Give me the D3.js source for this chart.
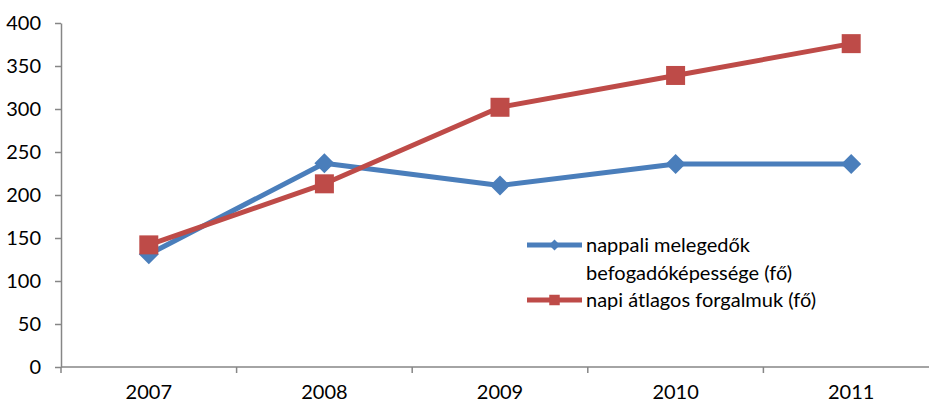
<!DOCTYPE html>
<html>
<head>
<meta charset="utf-8">
<script src="https://cdn.jsdelivr.net/npm/d3@7/dist/d3.min.js"></script>
<style>
  html, body { margin: 0; padding: 0; background: #fff; }
  svg { display: block; font-family: Lato, "Open Sans", sans-serif; }
</style>
</head>
<body>
<svg id="chart" width="929" height="403"></svg>
<script>
// Years on the category axis
const years = ["2007", "2008", "2009", "2010", "2011"];
// Day-shelter capacity (persons)
const capacity = [131, 237, 211, 236, 236];
// Average daily attendance (persons)
const attendance = [142, 213, 302, 339, 376];
// Value axis ticks
const yTicks = [0, 50, 100, 150, 200, 250, 300, 350, 400];
// Legend labels
const capacityLabel = ["nappali melegedők", "befogadóképessége (fő)"];
const attendanceLabel = ["napi átlagos forgalmuk (fő)"];

(function () {
const svg = d3.select("#chart");
const plotLeft = 61, plotRight = 939, plotTop = 23, plotBottom = 367;
const fontSize = 20;

const x = d3.scaleBand().domain(years).range([plotLeft, plotRight]);
const y = d3.scaleLinear().domain([0, 400]).range([plotBottom, plotTop]);

const axisColor = "#868686";
const blue = "#4a7ebb", red = "#be4b48";

// Value axis
const yAxis = svg.append("g")
  .attr("transform", `translate(${plotLeft},0)`)
  .call(d3.axisLeft(y).tickValues(yTicks).tickSize(6).tickSizeOuter(0).tickPadding(14));
yAxis.select(".domain").attr("stroke", axisColor).attr("stroke-width", 1.5);
yAxis.selectAll(".tick line").attr("stroke", axisColor).attr("stroke-width", 1.5);
yAxis.selectAll(".tick text").attr("font-size", fontSize).attr("fill", "#000")
  .attr("font-family", "Lato, sans-serif");

// Category axis with ticks between categories
const xAxis = svg.append("g").attr("transform", `translate(0,${plotBottom})`);
xAxis.append("line").attr("x1", plotLeft).attr("x2", plotRight)
  .attr("stroke", axisColor).attr("stroke-width", 1.5);
const boundaries = years.map(d => x(d)).concat([x(years[years.length - 1]) + x.bandwidth()]);
xAxis.selectAll("line.tk").data(boundaries).join("line").attr("class", "tk")
  .attr("x1", d => d).attr("x2", d => d).attr("y1", 0).attr("y2", 6)
  .attr("stroke", axisColor).attr("stroke-width", 1.5);
xAxis.selectAll("text").data(years).join("text")
  .attr("x", d => x(d) + x.bandwidth() / 2).attr("y", 32)
  .attr("text-anchor", "middle").attr("font-size", fontSize).attr("fill", "#000")
  .text(d => d);

const cx = d => x(d) + x.bandwidth() / 2;
const line = d3.line().x(d => cx(d[0])).y(d => y(d[1]));

const diamond = {
  draw(ctx, size) {
    const r = Math.sqrt(size) / 2;
    ctx.moveTo(0, -r); ctx.lineTo(r, 0); ctx.lineTo(0, r); ctx.lineTo(-r, 0); ctx.closePath();
  }
};

function drawSeries(values, color, symbol, size) {
  const pts = years.map((yr, i) => [yr, values[i]]);
  svg.append("path").datum(pts).attr("d", line)
    .attr("fill", "none").attr("stroke", color).attr("stroke-width", 5)
    .attr("stroke-linejoin", "round");
  svg.append("g").selectAll("path").data(pts).join("path")
    .attr("transform", d => `translate(${cx(d[0])},${y(d[1])})`)
    .attr("d", d3.symbol().type(symbol).size(size))
    .attr("fill", color);
}

drawSeries(capacity, blue, diamond, 400);
drawSeries(attendance, red, d3.symbolSquare, 361);

// Legend
const legend = svg.append("g");
const items = [
  { color: blue, sym: diamond, size: 120, labels: capacityLabel, ly: 245 },
  { color: red, sym: d3.symbolSquare, size: 110, labels: attendanceLabel, ly: 300 }
];
items.forEach(it => {
  legend.append("line").attr("x1", 527).attr("x2", 582).attr("y1", it.ly).attr("y2", it.ly)
    .attr("stroke", it.color).attr("stroke-width", 5);
  legend.append("path").attr("transform", `translate(554.5,${it.ly})`)
    .attr("d", d3.symbol().type(it.sym).size(it.size)).attr("fill", it.color);
  it.labels.forEach((t, j) => {
    legend.append("text").attr("x", 586).attr("y", it.ly + 7 + j * 28)
      .attr("font-size", fontSize).attr("fill", "#000").text(t);
  });
});
})();
</script>
</body>
</html>
